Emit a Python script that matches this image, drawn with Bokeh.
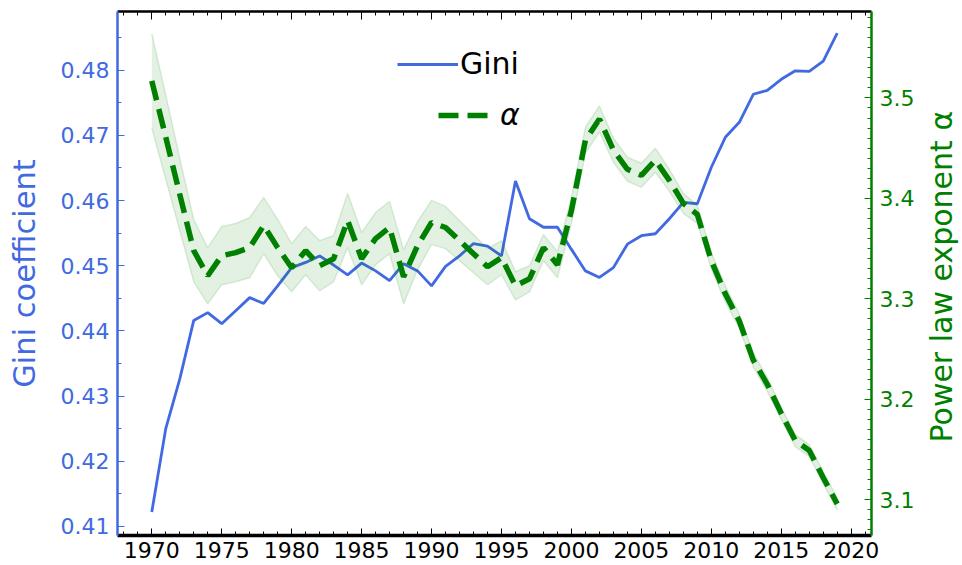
import math
from bokeh.plotting import figure
from bokeh.models import (Range1d, LinearAxis, SingleIntervalTicker, Legend,
                          LegendItem, ColumnDataSource, Label, CustomJSTickFormatter)
from bokeh.embed import file_html
from bokeh.resources import INLINE

years = list(range(1970, 2020))

gini = [0.4122, 0.4250, 0.4326, 0.4416, 0.4428, 0.4411, 0.4431, 0.4451, 0.4442, 0.4469,
        0.4497, 0.4505, 0.4515, 0.4501, 0.4486, 0.4504, 0.4492, 0.4477, 0.4503, 0.4492,
        0.4469, 0.4499, 0.4515, 0.4534, 0.4530, 0.4515, 0.4630, 0.4572, 0.4559, 0.4559,
        0.4525, 0.4492, 0.4482, 0.4497, 0.4533, 0.4546, 0.4549, 0.4572, 0.4597, 0.4595,
        0.4651, 0.4697, 0.4720, 0.4763, 0.4769, 0.4786, 0.4799, 0.4798, 0.4814, 0.4857]

alpha = [3.517, 3.461, 3.404, 3.348, 3.323, 3.343, 3.346, 3.351, 3.373, 3.351,
         3.331, 3.348, 3.333, 3.340, 3.378, 3.340, 3.360, 3.371, 3.322, 3.353,
         3.376, 3.371, 3.358, 3.345, 3.332, 3.341, 3.313, 3.320, 3.351, 3.334,
         3.388, 3.458, 3.479, 3.448, 3.429, 3.423, 3.438, 3.418, 3.395, 3.384,
         3.338, 3.305, 3.278, 3.239, 3.215, 3.186, 3.159, 3.149, 3.122, 3.096]

alpha_err = [0.047, 0.042, 0.036, 0.031, 0.028, 0.029, 0.029, 0.030, 0.028, 0.028,
             0.024, 0.024, 0.025, 0.023, 0.027, 0.026, 0.026, 0.026, 0.027, 0.024,
             0.022, 0.021, 0.020, 0.019, 0.018, 0.017, 0.014, 0.013, 0.013, 0.013,
             0.013, 0.013, 0.013, 0.012, 0.012, 0.012, 0.012, 0.011, 0.010, 0.009,
             0.008, 0.008, 0.007, 0.007, 0.007, 0.006, 0.006, 0.006, 0.006, 0.006]

BLUE = "#4169E1"
GREEN = "#008000"
FONT = "DejaVu Sans"

src = ColumnDataSource(dict(
    year=years, gini=gini, alpha=alpha,
    hi=[a + e for a, e in zip(alpha, alpha_err)],
    lo=[a - e for a, e in zip(alpha, alpha_err)],
))

p = figure(width=962, height=565, output_backend="svg", toolbar_location=None,
           x_range=Range1d(1967.55, 2021.45), y_range=Range1d(0.4086, 0.4890),
           min_border_left=117, min_border_right=91, min_border_top=11,
           min_border_bottom=30)
p.extra_y_ranges = {"alpha": Range1d(3.0645, 3.586)}
p.grid.visible = False
p.outline_line_color = None
p.background_fill_color = "white"

# bottom axis
xa = p.xaxis[0]
xa.ticker = SingleIntervalTicker(interval=5, num_minor_ticks=5)
xa.major_tick_in = 7
xa.major_tick_out = 0
xa.minor_tick_in = 4
xa.minor_tick_out = 0
xa.axis_line_width = 3.5
xa.axis_line_color = "black"
xa.major_tick_line_color = "black"
xa.minor_tick_line_color = "black"
xa.major_label_text_font = FONT
xa.major_label_text_font_size = "22px"
xa.major_label_text_color = "black"
xa.major_label_standoff = 6

# top axis (ticks only)
ta = LinearAxis(ticker=SingleIntervalTicker(interval=5, num_minor_ticks=5),
                formatter=CustomJSTickFormatter(code="return ''"))
ta.major_tick_in = 8
ta.major_tick_out = 0
ta.minor_tick_in = 4
ta.minor_tick_out = 0
ta.axis_line_width = 2.5
ta.axis_line_color = "black"
ta.major_label_text_font_size = "1px"
ta.major_label_standoff = 0
p.add_layout(ta, "above")

# left axis
ya = p.yaxis[0]
ya.ticker = SingleIntervalTicker(interval=0.01, num_minor_ticks=2)
ya.major_tick_in = 7
ya.major_tick_out = 0
ya.minor_tick_in = 4
ya.minor_tick_out = 0
ya.axis_line_width = 2.5
ya.axis_line_color = BLUE
ya.major_tick_line_color = BLUE
ya.minor_tick_line_color = BLUE
ya.major_label_text_font = FONT
ya.major_label_text_font_size = "22px"
ya.major_label_text_color = BLUE
ya.major_label_standoff = 8
ya.axis_label = "Gini coefficient"
ya.axis_label_text_font = FONT
ya.axis_label_text_font_size = "30.5px"
ya.axis_label_text_font_style = "normal"
ya.axis_label_text_color = BLUE
ya.axis_label_standoff = 16

# right axis
ra = LinearAxis(y_range_name="alpha",
                ticker=SingleIntervalTicker(interval=0.1, num_minor_ticks=10))
ra.major_tick_in = 7
ra.major_tick_out = 0
ra.minor_tick_in = 4
ra.minor_tick_out = 0
ra.axis_line_width = 2.5
ra.axis_line_color = GREEN
ra.major_tick_line_color = GREEN
ra.minor_tick_line_color = GREEN
ra.major_label_text_font = FONT
ra.major_label_text_font_size = "22px"
ra.major_label_text_color = GREEN
ra.major_label_standoff = 8
p.add_layout(ra, "right")

# right axis title, reading bottom to top
right_label = Label(x=941, y=442, x_units="canvas", y_units="canvas",
                    text="Power law exponent α", angle=math.pi / 2,
                    text_align="left", text_baseline="middle",
                    text_font=FONT, text_font_size="30px", text_color=GREEN)
p.add_layout(right_label, "right")

# data
gini_r = p.line("year", "gini", source=src, line_color=BLUE, line_width=2.8)
p.varea(x="year", y1="lo", y2="hi", source=src, fill_color=GREEN, fill_alpha=0.11,
        y_range_name="alpha")
p.line("year", "hi", source=src, line_color=GREEN, line_alpha=0.13, line_width=1.5,
       y_range_name="alpha")
p.line("year", "lo", source=src, line_color=GREEN, line_alpha=0.13, line_width=1.5,
       y_range_name="alpha")
alpha_r = p.line("year", "alpha", source=src, line_color=GREEN, line_width=5.5,
                 line_dash="20 9", y_range_name="alpha")

leg1 = Legend(items=[LegendItem(label="Gini", renderers=[gini_r])],
              location=(280, 454), glyph_width=61, glyph_height=30, label_height=30,
              label_standoff=2, label_text_font=FONT, label_text_font_size="30px",
              label_text_color="black",
              border_line_color=None, background_fill_alpha=0, padding=0, margin=0,
              spacing=0)
leg2 = Legend(items=[LegendItem(label="α", renderers=[alpha_r])],
              location=(321, 403), glyph_width=52, glyph_height=30, label_height=30,
              label_standoff=10, label_text_font=FONT, label_text_font_size="30px",
              label_text_font_style="italic", label_text_color="black",
              border_line_color=None, background_fill_alpha=0, padding=0, margin=0,
              spacing=0)
p.add_layout(leg1)
p.add_layout(leg2)

open("out.html", "w").write(file_html(p, INLINE))
